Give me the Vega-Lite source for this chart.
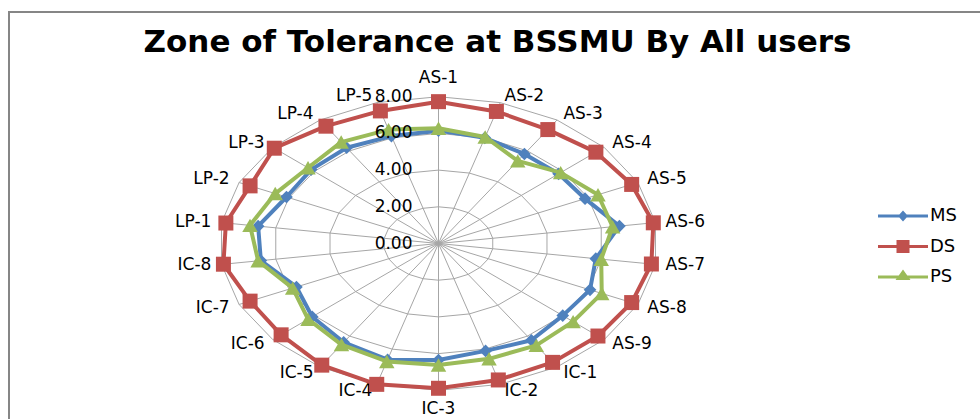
{
  "$schema": "https://vega.github.io/schema/vega-lite/v6.json",
  "width": 991,
  "height": 427,
  "autosize": "none",
  "padding": {"left": 9, "top": 12, "right": -20, "bottom": -20},
  "background": "white",
  "config": {
    "view": {"stroke": "#868686", "strokeWidth": 2},
    "font": "DejaVu Sans"
  },
  "title": {
    "text": "Zone of Tolerance at BSSMU By All users",
    "font": "DejaVu Sans",
    "fontSize": 31,
    "fontWeight": "bold",
    "color": "black",
    "anchor": "middle",
    "baseline": "alphabetic",
    "dx": -7,
    "offset": -71
  },
  "datasets": {
    "scores": [
      {"item": "AS-1", "MS": 6.15, "DS": 7.73, "PS": 6.28},
      {"item": "AS-2", "MS": 6.0, "DS": 7.5, "PS": 6.05},
      {"item": "AS-3", "MS": 5.8, "DS": 7.38, "PS": 5.35},
      {"item": "AS-4", "MS": 5.8, "DS": 7.6, "PS": 5.9},
      {"item": "AS-5", "MS": 5.88, "DS": 7.75, "PS": 6.4},
      {"item": "AS-6", "MS": 6.67, "DS": 7.92, "PS": 6.42},
      {"item": "AS-7", "MS": 5.8, "DS": 7.85, "PS": 6.0},
      {"item": "AS-8", "MS": 6.08, "DS": 7.75, "PS": 6.55},
      {"item": "AS-9", "MS": 6.0, "DS": 7.7, "PS": 6.5},
      {"item": "IC-1", "MS": 6.27, "DS": 7.7, "PS": 6.6},
      {"item": "IC-2", "MS": 6.1, "DS": 7.75, "PS": 6.55},
      {"item": "IC-3", "MS": 6.35, "DS": 7.89, "PS": 6.62},
      {"item": "IC-4", "MS": 6.6, "DS": 8.0, "PS": 6.7},
      {"item": "IC-5", "MS": 6.4, "DS": 7.88, "PS": 6.55},
      {"item": "IC-6", "MS": 6.1, "DS": 7.6, "PS": 6.3},
      {"item": "IC-7", "MS": 5.7, "DS": 7.56, "PS": 5.85},
      {"item": "IC-8", "MS": 6.55, "DS": 7.93, "PS": 6.65},
      {"item": "LP-1", "MS": 6.65, "DS": 7.84, "PS": 6.95},
      {"item": "LP-2", "MS": 6.1, "DS": 7.56, "PS": 6.55},
      {"item": "LP-3", "MS": 6.15, "DS": 7.93, "PS": 6.3},
      {"item": "LP-4", "MS": 6.2, "DS": 7.6, "PS": 6.57},
      {"item": "LP-5", "MS": 6.1, "DS": 7.53, "PS": 6.47}
    ],
    "levels": [
      {"level": 0},
      {"level": 2},
      {"level": 4},
      {"level": 6},
      {"level": 8}
    ],
    "keys": [
      {"series": "MS"},
      {"series": "DS"},
      {"series": "PS"}
    ]
  },
  "layer": [
    {
      "data": {"name": "scores"},
      "transform": [
        {"window": [{"op": "row_number", "as": "n"}]},
        {"calculate": "(datum.n - 1) * 2 * PI / 22", "as": "a"},
        {"calculate": "[2, 4, 6, 8]", "as": "ring"},
        {"flatten": ["ring"]},
        {"calculate": "datum.ring * sin(datum.a)", "as": "gx"},
        {"calculate": "datum.ring * cos(datum.a)", "as": "gy"}
      ],
      "mark": {"type": "line", "interpolate": "linear-closed", "color": "#A6A6A6", "strokeWidth": 1},
      "encoding": {
        "x": {"field": "gx", "type": "quantitative", "scale": {"domain": [-8, 8], "range": [210.3, 648.7], "zero": false, "nice": false}, "axis": null},
        "y": {"field": "gy", "type": "quantitative", "scale": {"domain": [-8, 8], "range": [378.3, 84.7], "zero": false, "nice": false}, "axis": null},
        "detail": {"field": "ring", "type": "nominal"},
        "order": {"field": "n", "type": "quantitative"}
      }
    },
    {
      "data": {"name": "scores"},
      "transform": [
        {"window": [{"op": "row_number", "as": "n"}]},
        {"calculate": "(datum.n - 1) * 2 * PI / 22", "as": "a"},
        {"calculate": "0", "as": "cx"},
        {"calculate": "8 * sin(datum.a)", "as": "sx"},
        {"calculate": "8 * cos(datum.a)", "as": "sy"}
      ],
      "mark": {"type": "rule", "color": "#A6A6A6", "strokeWidth": 1},
      "encoding": {
        "x": {"field": "cx", "type": "quantitative"},
        "y": {"field": "cx", "type": "quantitative"},
        "x2": {"field": "sx"},
        "y2": {"field": "sy"}
      }
    },
    {
      "data": {"name": "scores"},
      "transform": [
        {"window": [{"op": "row_number", "as": "n"}]},
        {"filter": "datum.n >= 2 && datum.n <= 11"},
        {"calculate": "(datum.n - 1) * 2 * PI / 22", "as": "a"},
        {"calculate": "8.3 * sin(datum.a)", "as": "lx"},
        {"calculate": "8.4 * cos(datum.a)", "as": "ly"}
      ],
      "mark": {"type": "text", "align": "left", "baseline": "middle", "dx": 2, "fontSize": 17, "color": "black"},
      "encoding": {
        "x": {"field": "lx", "type": "quantitative"},
        "y": {"field": "ly", "type": "quantitative"},
        "text": {"field": "item", "type": "nominal"}
      }
    },
    {
      "data": {"name": "scores"},
      "transform": [
        {"window": [{"op": "row_number", "as": "n"}]},
        {"filter": "datum.n >= 13"},
        {"calculate": "(datum.n - 1) * 2 * PI / 22", "as": "a"},
        {"calculate": "8.3 * sin(datum.a)", "as": "lx"},
        {"calculate": "8.4 * cos(datum.a)", "as": "ly"}
      ],
      "mark": {"type": "text", "align": "right", "baseline": "middle", "dx": -2, "fontSize": 17, "color": "black"},
      "encoding": {
        "x": {"field": "lx", "type": "quantitative"},
        "y": {"field": "ly", "type": "quantitative"},
        "text": {"field": "item", "type": "nominal"}
      }
    },
    {
      "data": {"name": "scores"},
      "transform": [
        {"window": [{"op": "row_number", "as": "n"}]},
        {"filter": "datum.n == 1 || datum.n == 12"},
        {"calculate": "(datum.n - 1) * 2 * PI / 22", "as": "a"},
        {"calculate": "0", "as": "lx"},
        {"calculate": "9.0 * cos(datum.a)", "as": "ly"}
      ],
      "mark": {"type": "text", "align": "center", "baseline": "middle", "fontSize": 17, "color": "black"},
      "encoding": {
        "x": {"field": "lx", "type": "quantitative"},
        "y": {"field": "ly", "type": "quantitative"},
        "text": {"field": "item", "type": "nominal"}
      }
    },
    {
      "data": {"name": "scores"},
      "transform": [
        {"window": [{"op": "row_number", "as": "n"}]},
        {"calculate": "(datum.n - 1) * 2 * PI / 22", "as": "a"},
        {"calculate": "datum.MS * sin(datum.a)", "as": "px"},
        {"calculate": "datum.MS * cos(datum.a)", "as": "py"}
      ],
      "layer": [
        {"mark": {"type": "line", "interpolate": "linear-closed", "strokeWidth": 4, "strokeJoin": "round", "color": "#4F81BD"}},
        {"mark": {"type": "point", "shape": "diamond", "filled": true, "opacity": 1, "size": 160, "color": "#4F81BD"}}
      ],
      "encoding": {
        "x": {"field": "px", "type": "quantitative"},
        "y": {"field": "py", "type": "quantitative"},
        "order": {"field": "n", "type": "quantitative"}
      }
    },
    {
      "data": {"name": "scores"},
      "transform": [
        {"window": [{"op": "row_number", "as": "n"}]},
        {"calculate": "(datum.n - 1) * 2 * PI / 22", "as": "a"},
        {"calculate": "datum.DS * sin(datum.a)", "as": "px"},
        {"calculate": "datum.DS * cos(datum.a)", "as": "py"}
      ],
      "layer": [
        {"mark": {"type": "line", "interpolate": "linear-closed", "strokeWidth": 4, "strokeJoin": "round", "color": "#C0504D"}},
        {"mark": {"type": "point", "shape": "square", "filled": true, "opacity": 1, "size": 225, "color": "#C0504D"}}
      ],
      "encoding": {
        "x": {"field": "px", "type": "quantitative"},
        "y": {"field": "py", "type": "quantitative"},
        "order": {"field": "n", "type": "quantitative"}
      }
    },
    {
      "data": {"name": "scores"},
      "transform": [
        {"window": [{"op": "row_number", "as": "n"}]},
        {"calculate": "(datum.n - 1) * 2 * PI / 22", "as": "a"},
        {"calculate": "datum.PS * sin(datum.a)", "as": "px"},
        {"calculate": "datum.PS * cos(datum.a)", "as": "py"}
      ],
      "layer": [
        {"mark": {"type": "line", "interpolate": "linear-closed", "strokeWidth": 4, "strokeJoin": "round", "color": "#9BBB59"}},
        {"mark": {"type": "point", "shape": "triangle-up", "filled": true, "opacity": 1, "size": 240, "color": "#9BBB59"}}
      ],
      "encoding": {
        "x": {"field": "px", "type": "quantitative"},
        "y": {"field": "py", "type": "quantitative"},
        "order": {"field": "n", "type": "quantitative"}
      }
    },
    {
      "data": {"name": "levels"},
      "transform": [{"calculate": "0", "as": "cx"}],
      "mark": {"type": "text", "align": "right", "baseline": "middle", "dx": -26, "fontSize": 17, "color": "black"},
      "encoding": {
        "x": {"field": "cx", "type": "quantitative"},
        "y": {"field": "level", "type": "quantitative"},
        "text": {"field": "level", "type": "quantitative", "format": ".2f"}
      }
    },
    {
      "data": {"name": "keys"},
      "transform": [{"calculate": "0", "as": "cx"}],
      "mark": {"type": "point", "filled": true, "opacity": 0},
      "encoding": {
        "x": {"field": "cx", "type": "quantitative"},
        "y": {"field": "cx", "type": "quantitative"},
        "color": {
          "field": "series", "type": "nominal",
          "scale": {"domain": ["MS", "DS", "PS"], "range": ["#4F81BD", "#C0504D", "#9BBB59"]},
          "legend": {
            "title": null, "orient": "none", "legendX": 884, "legendY": 194,
            "symbolSize": 400, "symbolStrokeWidth": 0, "symbolOpacity": 1,
            "labelFont": "DejaVu Sans", "labelFontSize": 18, "labelColor": "black",
            "labelOffset": 17, "rowPadding": 11.5, "padding": 0,
            "encode": {"symbols": {"update": {"opacity": {"value": 1}, "fillOpacity": {"value": 1}}}}
          }
        },
        "shape": {
          "field": "series", "type": "nominal",
          "scale": {
            "domain": ["MS", "DS", "PS"],
            "range": [
              "M-2.5,-0.15 L2.5,-0.15 L2.5,0.15 L-2.5,0.15 Z M0,-0.55 L0.5,0 L0,0.55 L-0.5,0 Z",
              "M-2.5,-0.15 L2.5,-0.15 L2.5,0.15 L-2.5,0.15 Z M-0.65,-0.65 L0.65,-0.65 L0.65,0.65 L-0.65,0.65 Z",
              "M-2.5,-0.15 L2.5,-0.15 L2.5,0.15 L-2.5,0.15 Z M0,-0.75 L0.75,0.3 L-0.75,0.3 Z"
            ]
          },
          "legend": {
            "title": null, "orient": "none", "legendX": 884, "legendY": 194,
            "symbolSize": 400, "symbolStrokeWidth": 0, "symbolOpacity": 1,
            "labelFont": "DejaVu Sans", "labelFontSize": 18, "labelColor": "black",
            "labelOffset": 17, "rowPadding": 11.5, "padding": 0,
            "encode": {"symbols": {"update": {"opacity": {"value": 1}, "fillOpacity": {"value": 1}}}}
          }
        }
      }
    }
  ]
}
